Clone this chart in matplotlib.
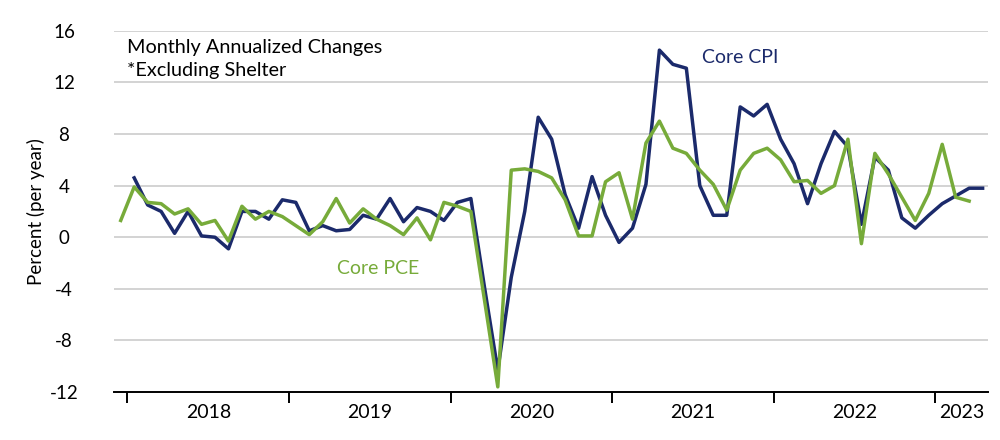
import numpy as np
import matplotlib
matplotlib.use('Agg')
import matplotlib.pyplot as plt

plt.rcParams['font.family'] = ['Lato', 'DejaVu Sans']

# monthly annualized changes, excluding shelter
# core CPI: Jan 2018 .. Apr 2023
core_cpi = [4.6, 2.5, 2.0, 0.3, 2.0, 0.1, 0.0, -0.9, 2.0, 2.0, 1.4, 2.9,
            2.7, 0.5, 0.9, 0.5, 0.6, 1.7, 1.4, 3.0, 1.2, 2.3, 2.0, 1.3,
            2.7, 3.0, -3.8, -10.3, -3.1, 2.0, 9.3, 7.6, 3.3, 0.7, 4.7, 1.7,
            -0.4, 0.7, 4.1, 14.5, 13.4, 13.1, 4.0, 1.7, 1.7, 10.1, 9.4, 10.3,
            7.6, 5.7, 2.6, 5.7, 8.2, 7.0, 1.0, 6.2, 5.2, 1.5, 0.7, 1.7,
            2.6, 3.2, 3.8, 3.8]
# core PCE: Dec 2017 .. Mar 2023
core_pce = [1.3, 3.9, 2.7, 2.6, 1.8, 2.2, 1.0, 1.3, -0.3, 2.4, 1.4, 2.0, 1.6,
            0.9, 0.2, 1.2, 3.0, 1.1, 2.2, 1.4, 0.9, 0.2, 1.5, -0.2, 2.7,
            2.4, 2.0, -4.8, -11.6, 5.2, 5.3, 5.1, 4.6, 2.9, 0.1, 0.1, 4.3,
            5.0, 1.4, 7.3, 9.0, 6.9, 6.5, 5.2, 4.1, 2.1, 5.2, 6.5, 6.9,
            6.0, 4.3, 4.4, 3.4, 4.0, 7.6, -0.5, 6.5, 4.9, 3.1, 1.3, 3.4,
            7.2, 3.1, 2.8]
years = ['2018', '2019', '2020', '2021', '2022', '2023']

navy = '#1b2a6b'
green = '#77ab3a'

x_cpi = np.arange(len(core_cpi))
x_pce = np.arange(len(core_pce)) - 1

fig = plt.figure(figsize=(10, 4.4), dpi=100)
ax = fig.add_axes([0.114, 0.109, 0.874, 0.821])

xmin, xmax = -1.5, 63.4
ax.set_xlim(xmin, xmax)
ax.set_ylim(-12, 16)

for v in range(-8, 17, 4):
    ax.axhline(v, color='#cccccc', lw=1.2, zorder=0)

ax.plot(x_cpi, core_cpi, color=navy, lw=2.5, zorder=3)
ax.plot(x_pce, core_pce, color=green, lw=2.5, zorder=4)

# y axis
ax.set_yticks(range(-12, 17, 4))
ax.set_yticklabels([str(v) for v in range(-12, 17, 4)], fontsize=13.5)
ax.tick_params(axis='y', length=0, pad=36)
for lab in ax.get_yticklabels():
    lab.set_horizontalalignment('center')
ax.set_ylabel('Percent (per year)', fontsize=13.5, labelpad=3)

# x axis: ticks at year boundaries, labels centered in each year
bounds = [-0.5 + 12 * k for k in range(len(years))]
ax.set_xticks(bounds)
ax.set_xticklabels([])
ax.tick_params(axis='x', direction='out', length=8, width=1.4, color='black')
for k, yr in enumerate(years):
    lo = max(bounds[k], xmin)
    hi = min(bounds[k] + 12, xmax)
    ax.text((lo + hi) / 2, -13.6, yr, ha='center', va='center', fontsize=14)

for s in ['top', 'right', 'left']:
    ax.spines[s].set_visible(False)
ax.spines['bottom'].set_linewidth(1.4)

ax.text(-0.5, 15.35, 'Monthly Annualized Changes\n*Excluding Shelter',
        fontsize=14.3, va='top', ha='left', linespacing=1.45)
ax.text(45.0, 13.95, 'Core CPI', color=navy, fontsize=14, ha='center', va='center')
ax.text(18.1, -2.4, 'Core PCE', color=green, fontsize=14, ha='center', va='center')

fig.savefig('out.png', dpi=100)
